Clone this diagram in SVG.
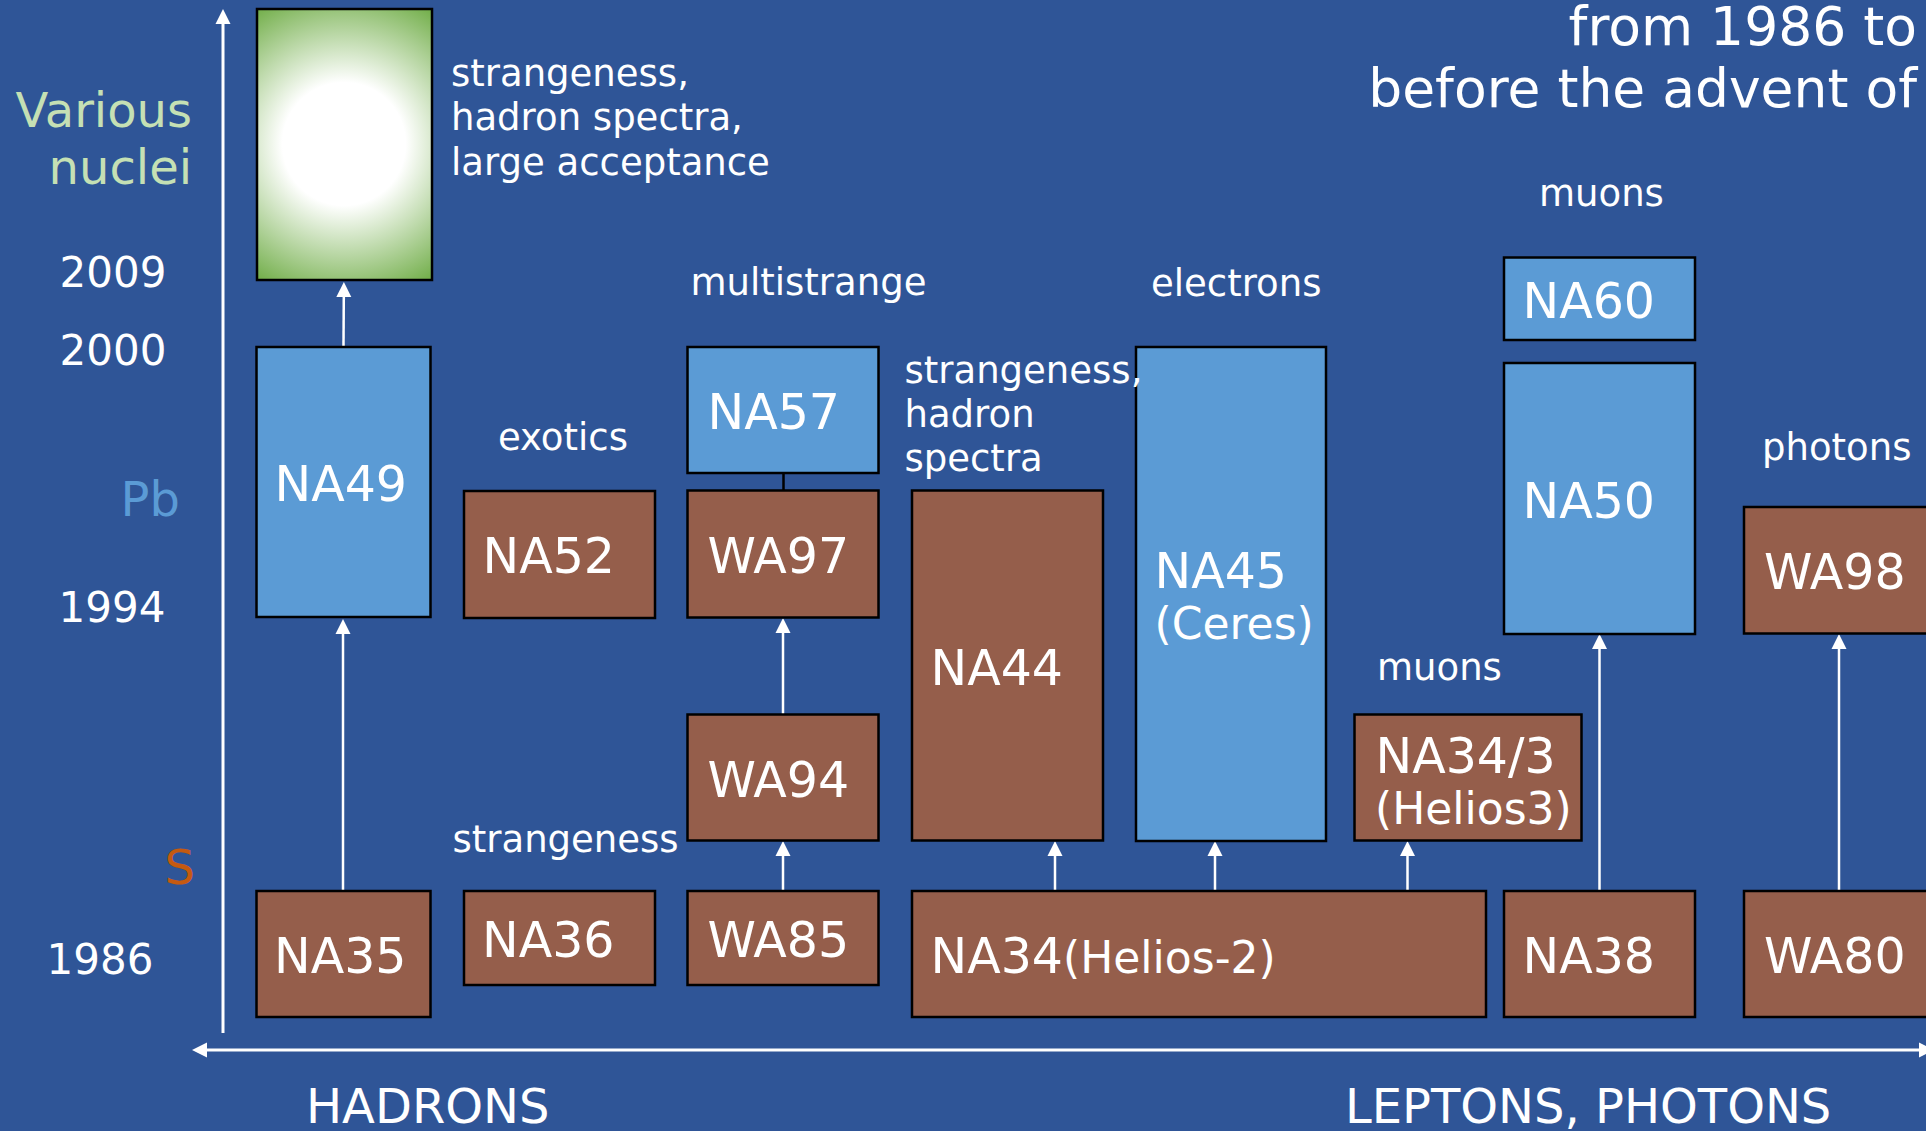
<svg xmlns="http://www.w3.org/2000/svg" width="1926" height="1131" viewBox="0 0 1926 1131">
<style>
text{font-family:"DejaVu Sans","Liberation Sans",sans-serif;fill:#fff}
.brown{fill:#955E4B;stroke:#000;stroke-width:2.5}
.lblue{fill:#5B9BD5;stroke:#000;stroke-width:2.5}
.lab{font-size:49px}
.sub{font-size:44px}
.note{font-size:37px}
.year{font-size:42px}
.axl{font-size:48px}
.title{font-size:53.5px}
.arr{stroke:#fff;stroke-width:2.5;fill:none;marker-end:url(#ah)}
.ax{stroke:#fff;stroke-width:3;fill:none}
</style>
<defs>
<marker id="ah" markerUnits="userSpaceOnUse" markerWidth="16" markerHeight="16" refX="0" refY="7.5" orient="auto" overflow="visible">
<path d="M0,0 L15,7.5 L0,15 z" fill="#fff"/>
</marker>
<marker id="axh" markerUnits="userSpaceOnUse" markerWidth="16" markerHeight="16" refX="0" refY="7.5" orient="auto-start-reverse" overflow="visible">
<path d="M0,0 L15,7.5 L0,15 z" fill="#fff"/>
</marker>
<radialGradient id="gg" gradientUnits="userSpaceOnUse" cx="344" cy="144" r="162">
<stop offset="0" stop-color="#fff"/>
<stop offset="0.38" stop-color="#fff"/>
<stop offset="1" stop-color="#70AD47"/>
</radialGradient>
</defs>
<rect width="1926" height="1131" fill="#2F5597"/>

<g id="axes">
<line class="ax" x1="223" y1="1033" x2="223" y2="24" marker-end="url(#axh)"/>
<line class="ax" x1="207" y1="1050" x2="1919" y2="1050" marker-start="url(#axh)" marker-end="url(#axh)"/>
</g>

<g id="connectors">
<line class="arr" x1="343" y1="890" x2="343" y2="634"/>
<line class="arr" x1="343.5" y1="346" x2="343.8" y2="297"/>
<line class="arr" x1="783" y1="890" x2="783" y2="856"/>
<line class="arr" x1="783" y1="714" x2="783" y2="633"/>
<line x1="783.5" y1="473" x2="783.5" y2="490" stroke="#000" stroke-width="2.5"/>
<line class="arr" x1="1055" y1="890" x2="1055" y2="856"/>
<line class="arr" x1="1215" y1="890" x2="1215" y2="856"/>
<line class="arr" x1="1407.5" y1="890" x2="1407.5" y2="856"/>
<line class="arr" x1="1599.5" y1="890" x2="1599.5" y2="649"/>
<line class="arr" x1="1839" y1="890" x2="1839" y2="649"/>
</g>

<g id="green"><rect x="257" y="9" width="175" height="271" fill="url(#gg)" stroke="#000" stroke-width="2.5"/></g>
<g id="NA49"><rect class="lblue" x="256.5" y="347" width="174" height="270"/><text class="lab" x="274.5" y="501">NA49</text></g>
<g id="NA35"><rect class="brown" x="256.5" y="891" width="174" height="126"/><text class="lab" x="274" y="973">NA35</text></g>
<g id="NA52"><rect class="brown" x="464" y="491" width="191" height="127"/><text class="lab" x="482.5" y="573">NA52</text></g>
<g id="NA36"><rect class="brown" x="464" y="891" width="191" height="94"/><text class="lab" x="482" y="957">NA36</text></g>
<g id="NA57"><rect class="lblue" x="687.5" y="347" width="191" height="126"/><text class="lab" x="707.5" y="429">NA57</text></g>
<g id="WA97"><rect class="brown" x="687.5" y="490.5" width="191" height="127"/><text class="lab" x="707.5" y="573">WA97</text></g>
<g id="WA94"><rect class="brown" x="687.5" y="714.5" width="191" height="126"/><text class="lab" x="707.5" y="797">WA94</text></g>
<g id="WA85"><rect class="brown" x="687.5" y="891" width="191" height="94"/><text class="lab" x="707.5" y="957">WA85</text></g>
<g id="NA44"><rect class="brown" x="912" y="490.5" width="191" height="350"/><text class="lab" x="930.5" y="685">NA44</text></g>
<g id="NA45"><rect class="lblue" x="1136" y="347" width="190" height="494"/><text class="lab" x="1154.5" y="588">NA45</text><text class="sub" x="1154.5" y="639">(Ceres)</text></g>
<g id="NA34-3"><rect class="brown" x="1354.5" y="714.5" width="227" height="126"/><text class="lab" x="1375.5" y="773">NA34/3</text><text class="sub" x="1375" y="823.5">(Helios3)</text></g>
<g id="NA34"><rect class="brown" x="912" y="891" width="574" height="126"/><text class="lab" x="930.5" y="973">NA34<tspan class="sub">(Helios-2)</tspan></text></g>
<g id="NA60"><rect class="lblue" x="1504" y="257.5" width="191" height="82.5"/><text class="lab" x="1522.5" y="318">NA60</text></g>
<g id="NA50"><rect class="lblue" x="1504" y="363" width="191" height="271"/><text class="lab" x="1522.5" y="518">NA50</text></g>
<g id="NA38"><rect class="brown" x="1504" y="891" width="191" height="126"/><text class="lab" x="1522.5" y="973">NA38</text></g>
<g id="WA98"><rect class="brown" x="1744" y="507" width="200" height="126.5"/><text class="lab" x="1764" y="588.5">WA98</text></g>
<g id="WA80"><rect class="brown" x="1744" y="891" width="200" height="126"/><text class="lab" x="1764" y="973">WA80</text></g>

<g id="labels">
<text class="axl" x="192" y="127" text-anchor="end" style="fill:#C5E0B4">Various</text>
<text class="axl" x="192" y="184" text-anchor="end" style="fill:#C5E0B4">nuclei</text>
<text class="year" x="59.5" y="287">2009</text>
<text class="year" x="59.5" y="365">2000</text>
<text class="axl" x="180" y="516" text-anchor="end" style="fill:#5B9BD5">Pb</text>
<text class="year" x="58.5" y="621.5">1994</text>
<text class="axl" x="195" y="884" text-anchor="end" style="fill:#C55A11">S</text>
<text class="year" x="46.5" y="974">1986</text>
<text class="axl" x="306" y="1123">HADRONS</text>
<text class="axl" x="1345" y="1123">LEPTONS, PHOTONS</text>
<text class="title" x="1917" y="45" text-anchor="end">from 1986 to</text>
<text class="title" x="1917" y="107" text-anchor="end">before the advent of</text>
<text class="note" x="451" y="86">strangeness,</text>
<text class="note" x="451" y="130">hadron spectra,</text>
<text class="note" x="451" y="175">large acceptance</text>
<text class="note" x="690.5" y="295">multistrange</text>
<text class="note" x="498" y="450">exotics</text>
<text class="note" x="452.5" y="852">strangeness</text>
<text class="note" x="904.5" y="383">strangeness,</text>
<text class="note" x="904.5" y="427">hadron</text>
<text class="note" x="904.5" y="471">spectra</text>
<text class="note" x="1151" y="296">electrons</text>
<text class="note" x="1539" y="206">muons</text>
<text class="note" x="1377" y="680">muons</text>
<text class="note" x="1762" y="460">photons</text>
</g>
</svg>
